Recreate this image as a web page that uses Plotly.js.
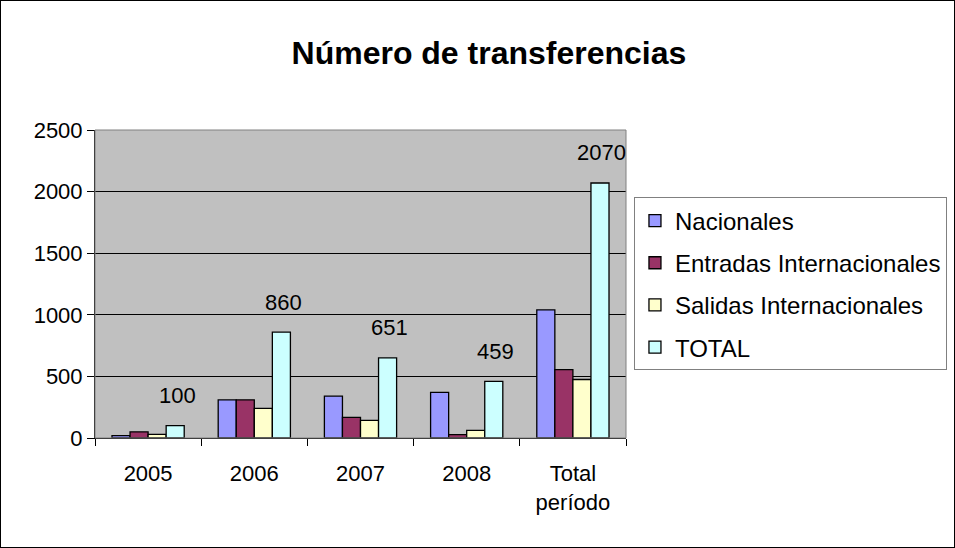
<!DOCTYPE html>
<html><head><meta charset="utf-8">
<script src="https://cdn.plot.ly/plotly-3.0.1.min.js"></script>
<style>html,body{margin:0;padding:0;background:#fff}#c{width:955px;height:548px;box-sizing:border-box;border:1px solid #000}</style>
</head><body><div id="c"></div>
<script>
const categories = ["2005", "2006", "2007", "2008", "Total<br>período"];
const nacionales = [20, 310, 340, 370, 1040];
const entradas = [50, 310, 168, 27, 555];
const salidas = [30, 240, 143, 62, 475];
const total = [100, 860, 651, 459, 2070];
const seriesNames = ["Nacionales", "Entradas Internacionales", "Salidas Internacionales", "TOTAL"];
const colors = ["#9999FF", "#993366", "#FFFFCC", "#CCFFFF"];
const values = [nacionales, entradas, salidas, total];

const traces = values.map((v, i) => ({
  type: "bar", x: categories, y: v, name: seriesNames[i], legendgroup: "g" + i,
  marker: {color: colors[i], line: {color: "#000", width: 1.3}},
  hoverinfo: "none"
}));

const annotations = total.map((v, i) => ({
  x: i, y: v, xref: "x", yref: "y", text: String(v), showarrow: false,
  xshift: 29, yshift: 30, font: {family: "Liberation Sans, Arial", size: 22, color: "#000"}
}));

const layout = {
  width: 953, height: 546,
  paper_bgcolor: "#fff", plot_bgcolor: "#C0C0C0",
  margin: {l: 94, r: 328, t: 129, b: 109, pad: 0, autoexpand: false},
  font: {family: "Liberation Sans, Arial", size: 22, color: "#000"},
  title: {text: "<b>Número de transferencias</b>", font: {size: 32, family: "Liberation Sans, Arial"}, x: 0.512, xanchor: "center", y: 0.905, yanchor: "middle"},
  barmode: "group", bargap: 0.32, bargroupgap: 0,
  xaxis: {type: "category", range: [-0.5, 4.5], showline: true, linecolor: "#000", linewidth: 1, ticks: "outside", ticklen: 7, tickcolor: "#000", tickson: "boundaries", showgrid: false, tickfont: {size: 22}, ticklabelstandoff: 16},
  yaxis: {range: [0, 2500], dtick: 500, showline: true, linecolor: "#000", linewidth: 1, ticks: "outside", ticklen: 7, tickcolor: "#000", showgrid: true, gridcolor: "#000", gridwidth: 1, zeroline: false, tickfont: {size: 22}},
  legend: {x: 1.015, xanchor: "left", y: 0.781, yanchor: "top", bordercolor: "#808080", borderwidth: 1, bgcolor: "#fff", font: {size: 24}, tracegroupgap: 8, itemwidth: 30, traceorder: "grouped"},
  shapes: [{type: "rect", xref: "paper", yref: "paper", x0: 0, x1: 1, y0: 0, y1: 1, line: {color: "#808080", width: 1}}],
  annotations: annotations,
  showlegend: true
};
Plotly.newPlot("c", traces, layout, {displayModeBar: false, staticPlot: true});
</script></body></html>
